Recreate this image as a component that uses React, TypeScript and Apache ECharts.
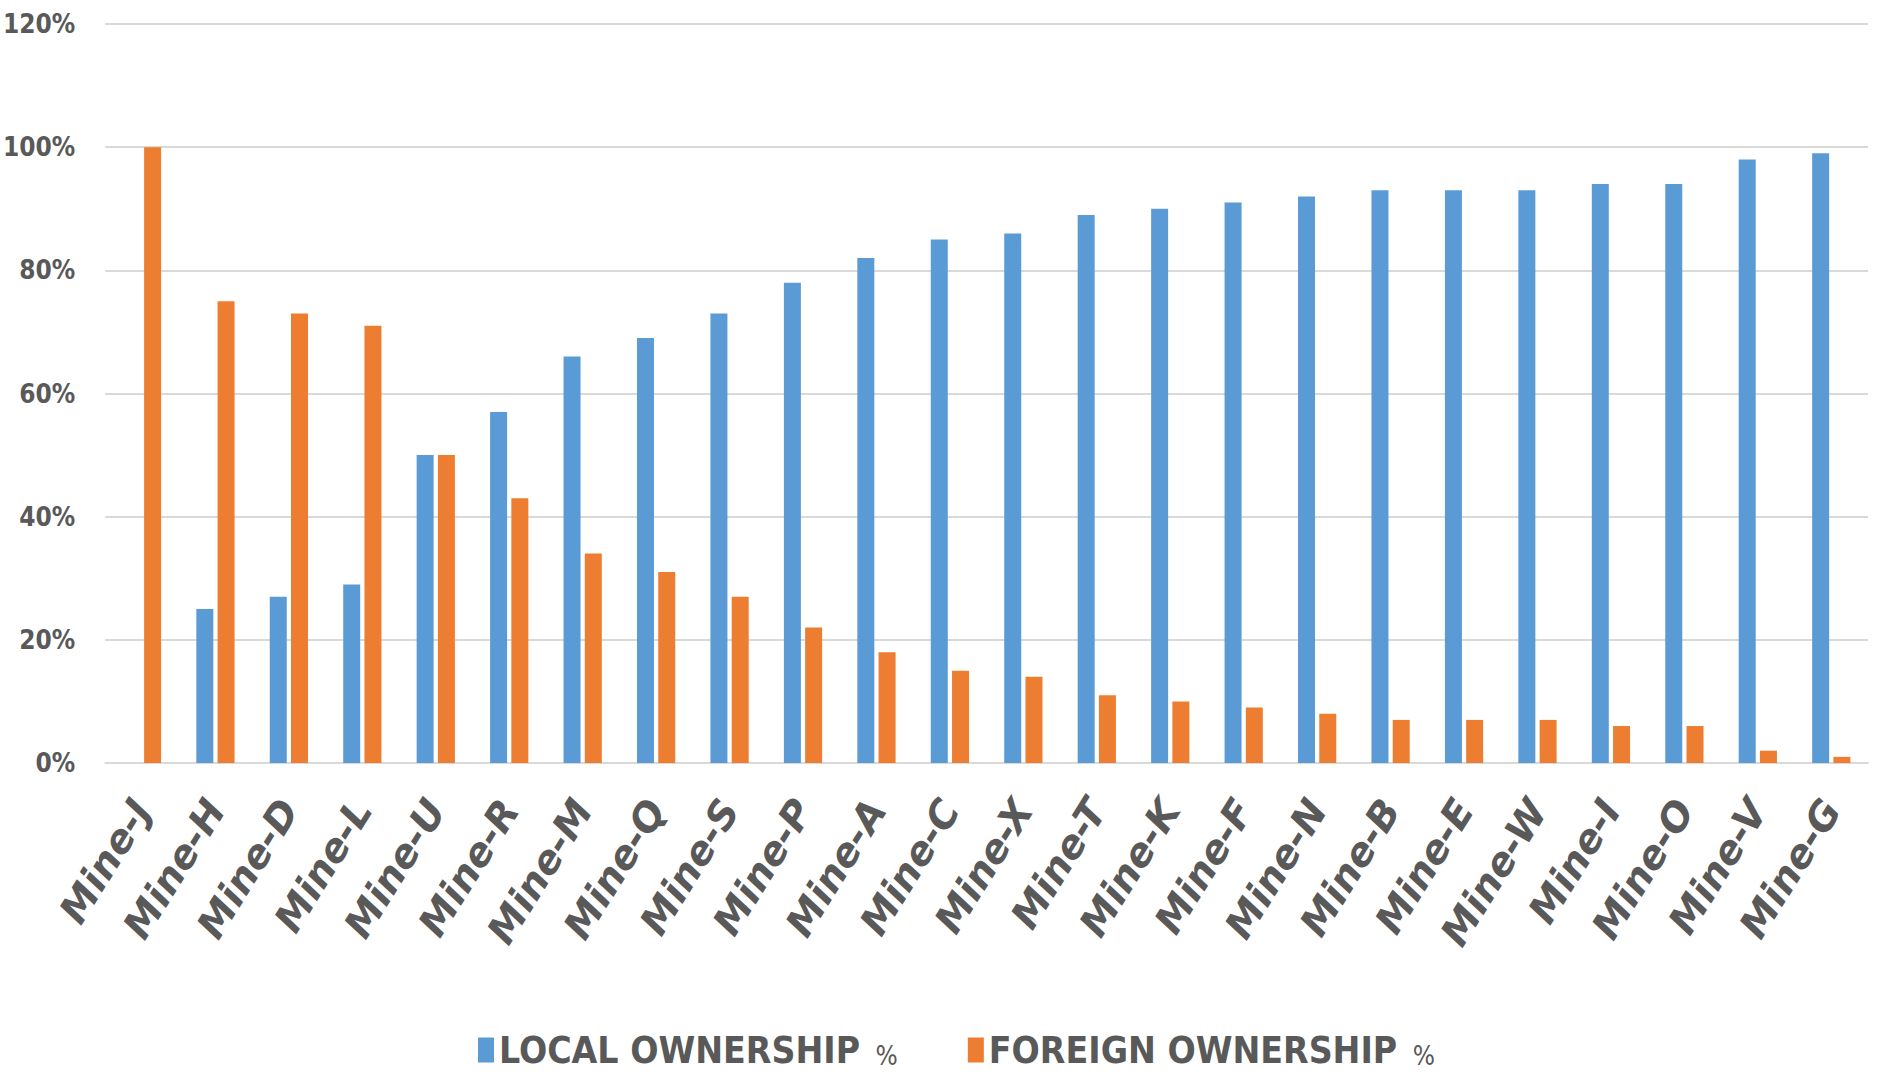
import React, { useEffect, useRef } from "react";
import * as echarts from "echarts";

const categories = [
  "Mine-J", "Mine-H", "Mine-D", "Mine-L", "Mine-U", "Mine-R", "Mine-M", "Mine-Q",
  "Mine-S", "Mine-P", "Mine-A", "Mine-C", "Mine-X", "Mine-T", "Mine-K", "Mine-F",
  "Mine-N", "Mine-B", "Mine-E", "Mine-W", "Mine-I", "Mine-O", "Mine-V", "Mine-G",
];

const localOwnership = [
  0, 25, 27, 29, 50, 57, 66, 69, 73, 78, 82, 85, 86, 89, 90, 91, 92, 93, 93, 93, 94, 94, 98, 99,
];

const foreignOwnership = [
  100, 75, 73, 71, 50, 43, 34, 31, 27, 22, 18, 15, 14, 11, 10, 9, 8, 7, 7, 7, 6, 6, 2, 1,
];

const seriesNames = ["LOCAL OWNERSHIP", "FOREIGN OWNERSHIP"];
const yTicks = { min: 0, max: 120, interval: 20 };

export default function App() {
  const ref = useRef<HTMLDivElement>(null);

  useEffect(() => {
    if (!ref.current) return;
    const chart = echarts.init(ref.current, undefined, { renderer: "svg" });
    const grey = "#595959";
    const condensed = "DejaVu Sans Condensed";
    chart.setOption({
      animation: false,
      backgroundColor: "#ffffff",
      grid: { left: 103, right: 10, top: 24, bottom: 313, containLabel: false },
      legend: {
        bottom: 2,
        left: 473,
        itemWidth: 16,
        itemHeight: 25,
        itemGap: 70,
        icon: "rect",
        textStyle: {
          fontFamily: condensed,
          fontWeight: "bold",
          fontSize: 37,
          color: grey,
          rich: {
            p: {
              fontFamily: condensed,
              fontWeight: "normal",
              fontSize: 26,
              color: grey,
              verticalAlign: "bottom",
              padding: [12, 0, 0, 4],
            },
          },
        },
        formatter: (name: string) => `${name} {p|%}`,
        data: seriesNames,
      },
      xAxis: {
        type: "category",
        data: categories,
        axisLine: { show: true, lineStyle: { color: "#d9d9d9", width: 2 } },
        axisTick: { show: false },
        axisLabel: {
          interval: 0,
          rotate: 58,
          margin: 40,
          fontFamily: "DejaVu Sans",
          fontWeight: "bold",
          fontStyle: "italic",
          fontSize: 39,
          color: grey,
        },
      },
      yAxis: {
        type: "value",
        min: yTicks.min,
        max: yTicks.max,
        interval: yTicks.interval,
        axisLine: { show: false },
        axisTick: { show: false },
        splitLine: { lineStyle: { color: "#d9d9d9", width: 2 } },
        axisLabel: {
          formatter: "{value}%",
          margin: 30,
          fontFamily: condensed,
          fontWeight: "bold",
          fontSize: 26,
          color: grey,
        },
      },
      series: [
        {
          name: seriesNames[0],
          type: "bar",
          data: localOwnership,
          barWidth: 17,
          barGap: "25%",
          itemStyle: { color: "#5B9BD5" },
        },
        {
          name: seriesNames[1],
          type: "bar",
          data: foreignOwnership,
          barWidth: 17,
          barGap: "25%",
          itemStyle: { color: "#ED7D31" },
        },
      ],
    });
    return () => chart.dispose();
  }, []);

  return (
    <div
      ref={ref}
      style={{ position: "fixed", left: 0, top: 0, width: 1878, height: 1076 }}
    />
  );
}
